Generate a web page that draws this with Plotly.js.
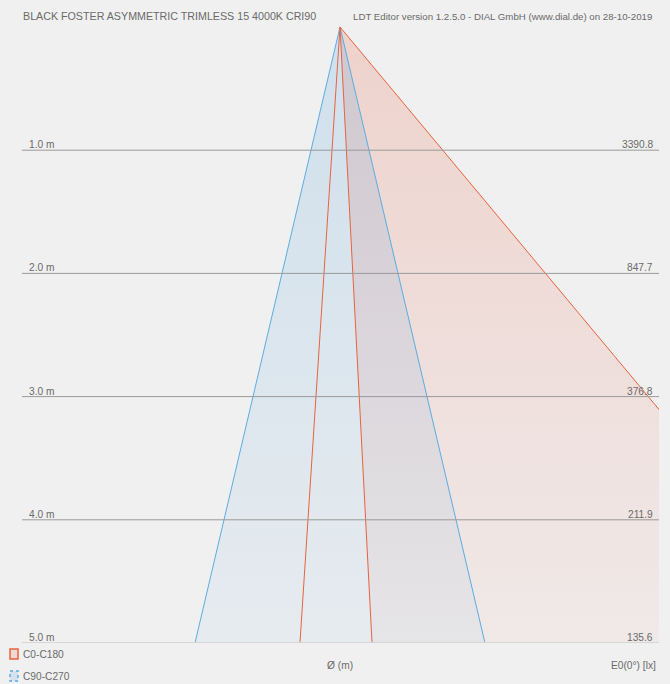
<!DOCTYPE html>
<html>
<head>
<meta charset="utf-8">
<script src="https://cdn.plot.ly/plotly-3.0.1.min.js"></script>
<style>html,body{margin:0;padding:0;background:#f0f0f0;}#chart{width:670px;height:684px;}</style>
</head>
<body>
<div id="chart"></div>
<script>
// ---- data ----
const distances = [1, 2, 3, 4, 5];                 // m
const distanceLabels = ["1.0 m", "2.0 m", "3.0 m", "4.0 m", "5.0 m"];
const illuminance = [3390.8, 847.7, 376.8, 211.9, 135.6]; // E0(0°) lx
// beam edges: diameter offsets (m) from the axis at 5 m depth
const c0c180Edges = [-0.325, 0.26, 4.17];   // C180 side, C0 narrow, C0 wide
const c90c270Edges = [-1.177, 1.177];       // C270 side, C90 side
const titleLeft = "BLACK FOSTER ASYMMETRIC TRIMLESS 15 4000K CRI90";
const titleRight = "LDT Editor version 1.2.5.0 - DIAL GmbH (www.dial.de) on 28-10-2019";
const seriesNames = ["C0-C180", "C90-C270"];

const depth = distances[distances.length - 1];
const red = "rgb(232,98,62)";
const blue = "rgb(90,172,226)";
const txt = "#6a6a6a";
const fam = "Liberation Sans, Arial, sans-serif";
const font = {family: fam, size: 10.2, color: txt};

const traces = [
  { // red fill
    x: [0, c0c180Edges[1], c0c180Edges[2], 0], y: [0, depth, depth, 0],
    mode: "lines", fill: "toself", line: {width: 0},
    fillgradient: {type: "vertical", start: 0, stop: depth,
      colorscale: [[0, "rgba(231,90,60,0.2)"], [1, "rgba(231,90,60,0.045)"]]},
    hoverinfo: "skip", showlegend: false
  },
  { // blue fill
    x: [0, c90c270Edges[0], c90c270Edges[1], 0], y: [0, depth, depth, 0],
    mode: "lines", fill: "toself", line: {width: 0},
    fillgradient: {type: "vertical", start: 0, stop: depth,
      colorscale: [[0, "rgba(60,150,220,0.18)"], [1, "rgba(60,150,220,0.055)"]]},
    hoverinfo: "skip", showlegend: false
  },
  { // blue lines
    x: [c90c270Edges[0], 0, c90c270Edges[1]], y: [depth, 0, depth],
    mode: "lines", line: {color: blue, width: 1}, hoverinfo: "skip", showlegend: false
  },
  { // red lines
    x: [c0c180Edges[0], 0, c0c180Edges[1], null, 0, c0c180Edges[2]],
    y: [depth, 0, depth, null, 0, depth],
    mode: "lines", line: {color: red, width: 1}, hoverinfo: "skip", showlegend: false
  }
];

const shapes = [];
const annotations = [];
distances.forEach((d, i) => {
  const last = i === distances.length - 1;
  shapes.push({type: "line", xref: "paper", yref: "y", x0: 0, x1: 1, y0: d, y1: d,
    line: {color: last ? "#d6d6d6" : "#9a9a9a", width: last ? 2 : 1}, layer: "above"});
  annotations.push({xref: "paper", yref: "y", x: 0, y: d, xanchor: "left", yanchor: "bottom",
    xshift: 5, yshift: -2, text: distanceLabels[i], showarrow: false, font: font});
  annotations.push({xref: "paper", yref: "y", x: 1, y: d, xanchor: "right", yanchor: "bottom",
    xshift: -4, yshift: -2, text: illuminance[i].toFixed(1), showarrow: false, font: font});
});
annotations.push({xref: "paper", yref: "paper", x: 0, y: 1, xanchor: "left", yanchor: "middle",
  xshift: -1, yshift: 11, text: titleLeft, showarrow: false, font: {family: fam, size: 10.7, color: txt}});
annotations.push({xref: "paper", yref: "paper", x: 1, y: 1, xanchor: "right", yanchor: "middle",
  xshift: -5, yshift: 11, text: titleRight, showarrow: false, font: {family: fam, size: 9.7, color: txt}});
annotations.push({xref: "x", yref: "paper", x: 0, y: 0, xanchor: "center", yanchor: "middle",
  yshift: -22, text: "Ø (m)", showarrow: false, font: font});
annotations.push({xref: "paper", yref: "paper", x: 1, y: 0, xanchor: "right", yanchor: "middle",
  xshift: -1, yshift: -22, text: "E0(0°) [lx]", showarrow: false, font: font});
annotations.push({xref: "paper", yref: "paper", x: 0, y: 0, xanchor: "left", yanchor: "middle",
  xshift: -1, yshift: -11, text: seriesNames[0], showarrow: false, font: font});
annotations.push({xref: "paper", yref: "paper", x: 0, y: 0, xanchor: "left", yanchor: "middle",
  xshift: -1, yshift: -33, text: seriesNames[1], showarrow: false, font: font});
// legend icons
shapes.push({type: "rect", xref: "paper", yref: "paper", xsizemode: "pixel", ysizemode: "pixel",
  xanchor: 0, yanchor: 0, x0: -12, x1: -4, y0: -6, y1: -16,
  line: {color: red, width: 1.5}, fillcolor: "rgba(231,90,60,0.15)"});
shapes.push({type: "rect", xref: "paper", yref: "paper", xsizemode: "pixel", ysizemode: "pixel",
  xanchor: 0, yanchor: 0, x0: -12, x1: -4, y0: -28, y1: -38,
  line: {color: blue, width: 1.5, dash: "dot"}, fillcolor: "rgba(60,150,220,0.15)"});

const pxPerM = 616 / depth;
const layout = {
  width: 670, height: 684,
  margin: {l: 22, r: 11, t: 27, b: 41, pad: 0},
  paper_bgcolor: "#f0f0f0", plot_bgcolor: "#f0f0f0",
  showlegend: false,
  xaxis: {range: [-318 / pxPerM, 319 / pxPerM], visible: false, fixedrange: true},
  yaxis: {range: [depth, 0], visible: false, fixedrange: true},
  shapes: shapes, annotations: annotations
};
Plotly.newPlot("chart", traces, layout, {staticPlot: true});
</script>
</body>
</html>
